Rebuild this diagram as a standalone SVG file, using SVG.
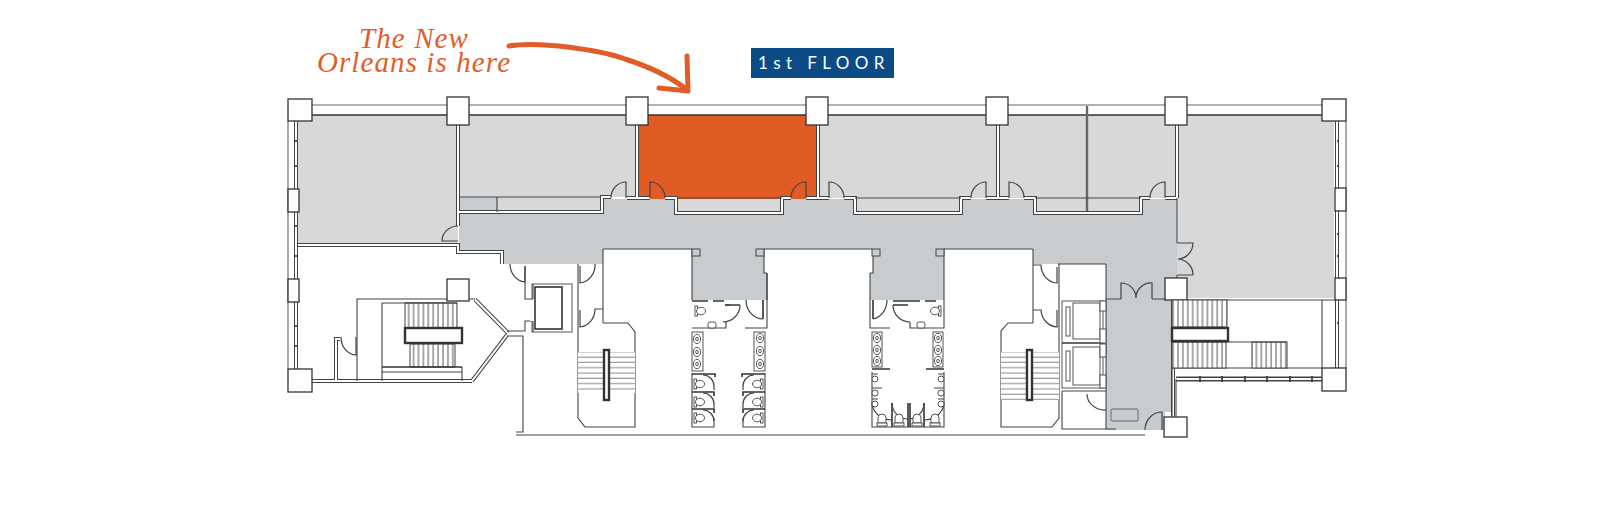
<svg xmlns="http://www.w3.org/2000/svg" width="1600" height="519" viewBox="0 0 1600 519">
<style>
.room{fill:#d8d8d8}
.hall{fill:#c9ccce}
.l{fill:none;stroke:#444;stroke-width:1.1}
.g{fill:none;stroke:#666;stroke-width:1.1}
.k{fill:none;stroke:#333;stroke-width:1.6}
.div{fill:none;stroke:#666;stroke-width:2.4}
.col{fill:#fff;stroke:#333;stroke-width:1.3}
.bar{fill:#fff;stroke:#333;stroke-width:2.4}
.door{fill:none;stroke:#444;stroke-width:1.2}
.fx{fill:#fff;stroke:#444;stroke-width:.9}
.note{font-family:"Liberation Serif",serif;font-style:italic;font-size:29px;letter-spacing:1.1px;fill:#e15d2c}
</style>
<defs>
<pattern id="tv" width="4.9" height="10" patternUnits="userSpaceOnUse"><rect width="4.9" height="10" fill="#fff"/><path d="M2,0V10" stroke="#555" stroke-width="1"/></pattern>
<pattern id="th" width="10" height="5.3" patternUnits="userSpaceOnUse"><rect width="10" height="5.3" fill="#fff"/><path d="M0,2H10" stroke="#888" stroke-width="1"/></pattern>
<g id="dw">
<path d="M298,245H458V252H502V264"/>
<path d="M458,125V226"/>
<path d="M459,212H602V197H611"/>
<path d="M637,125V198"/>
<path d="M665,198H676V213H782V198H791"/>
<path d="M818,125V198"/>
<path d="M844,198H855V213H961V198H971"/>
<path d="M998,125V198"/>
<path d="M1024,198H1035V213H1141V198H1150"/>
<path d="M1177,125V198"/>
<path d="M627,198H650M806,198H829M986,198H1009M1165,198H1177"/>
<path d="M475,299.500L508,333"/>
<path d="M507,335L472,381"/>
<path d="M312,381H472"/>
<path d="M336,381V339H340"/>
<path d="M1173,300V416"/>
<path d="M1176,379H1322"/>
<path d="M296,121V369"/>
<path d="M1337,121V368"/>
</g>
<g id="u"><ellipse rx="3.600" ry="4.700" class="fx"/><ellipse rx="1.300" ry="1.800" class="fx"/></g>
<g id="wc"><rect x="-6" y="-5" width="2.500" height="10" class="fx"/><ellipse cx="0" cy="0" rx="4.500" ry="3.800" class="fx"/></g>
<g id="wv"><path d="M-4,4V-1A4,4 0 0 1 4,-1V4Z" class="fx"/><rect x="-5" y="4" width="10" height="3" class="fx"/></g>
</defs>
<rect width="1600" height="519" fill="#fff"/>

<g id="floor-areas">
<rect class="room" x="298" y="115" width="160" height="128"/>
<path class="room" d="M459,115H637V197H602V212H497V197H459Z"/>
<path id="the-new-orleans" fill="#e05c24" d="M639,115H817V199H639Z"/>
<rect class="room" x="677" y="199" width="105" height="13"/>
<path class="room" d="M820,115H997V198H962V212H854V198H820Z"/>
<path class="room" d="M999,115H1176V198H1142V212H1035V198H999Z"/>
<path class="room" d="M1178,115H1334V298H1187V278H1178Z"/>
<path class="hall" d="M459,197H497V214H602V199H674V214H782V199H853V214H962V199H1033V214H1142V199H1177V278H1165V300H1172V412H1165V430H1106V264H1033V249H944V300H870V273H873V249H764V273H767V300H692V249H603V264H502V252H459Z"/>
<rect class="room" x="1177" y="243" width="16" height="32"/>
</g>

<g id="walls">
<use href="#dw" fill="none" stroke="#444" stroke-width="4"/>
<use href="#dw" fill="none" stroke="#fff" stroke-width="2"/>
<path class="g" d="M312,105H1322"/>
<path class="k" d="M312,115H1322"/>
<path class="g" d="M288,121V369M1346,121V368"/>
<path class="div" d="M1087,106V211"/>
<path class="l" d="M497,197V212M459,197H600M677,198H782M855,198H961M1035,198H1141"/>
<path class="l" d="M1177,198V243M1177,275V278"/>
<path class="l" d="M1106,264V429M1058,264H1106M1033,249V323M603,249V323M578,264V418L585,427H635V332L628,323H603"/>
<path class="l" d="M603,249H692M764,249H872M944,249H1033M692,249V300M767,273V300M870,273V300M944,249V300M767,273H764V249M870,273H873V249"/>
<rect class="hall" x="692" y="249" width="8" height="7" stroke="#444"/>
<rect class="hall" x="756" y="249" width="8" height="7" stroke="#444"/>
<rect class="hall" x="872" y="249" width="8" height="7" stroke="#444"/>
<rect class="hall" x="936" y="249" width="8" height="7" stroke="#444"/>
<path class="l" d="M1033,323H1008L1001,331V427H1052L1059,418V264"/>
<path class="l" d="M1106,299H1121M1152,299H1165"/>
<path class="l" d="M1187,300H1335M1322,300V368M1172,368H1322M1172,300V412"/>
<path class="l" d="M1106,429H1116M516,435H1145M516,432H523V336H507M507,331H525V321H533M525,266V299H533"/>
<path class="l" d="M357,381V299H447M382,381V303H447M469,299H475"/>
<path class="l" d="M1176,377H1322M1176,381H1322M1176,379V418M1172,412V418"/>
<path class="k" d="M1200,376V382M1222,376V382M1245,376V382M1267,376V382M1290,376V382M1312,376V382M296,140V142M296,165V167M296,225V227M296,255V257M296,325V327M296,345V347M1338,140V142M1338,165V167M1338,233V235M1338,255V257M1338,322V324"/>
</g>

<g id="columns">
<rect class="col" x="288" y="99" width="24" height="22"/>
<rect class="col" x="447" y="97" width="22" height="28"/>
<rect class="col" x="626" y="97" width="22" height="28"/>
<rect class="col" x="806" y="97" width="22" height="28"/>
<rect class="col" x="986" y="97" width="22" height="28"/>
<rect class="col" x="1165" y="97" width="22" height="28"/>
<rect class="col" x="1322" y="99" width="24" height="22"/>
<rect class="col" x="288" y="189" width="11" height="23"/>
<rect class="col" x="288" y="279" width="11" height="23"/>
<rect class="col" x="288" y="369" width="24" height="23"/>
<rect class="col" x="1335" y="188" width="11" height="23"/>
<rect class="col" x="1335" y="278" width="11" height="22"/>
<rect class="col" x="1322" y="368" width="24" height="23"/>
<rect class="col" x="1165" y="278" width="22" height="22"/>
<rect class="col" x="1164" y="417" width="23" height="20"/>
<rect class="col" x="447" y="279" width="22" height="22"/>
</g>

<g id="doors">
<path class="door" d="M458,241H442A16,15 0 0 1 458,226"/>
<path class="door" d="M626,198V182A15,16 0 0 0 611,198"/>
<path class="door" d="M650,198V182A15,16 0 0 1 665,198"/>
<path class="door" d="M806,198V182A15,16 0 0 0 791,198"/>
<path class="door" d="M829,198V182A15,16 0 0 1 844,198"/>
<path class="door" d="M986,198V182A15,16 0 0 0 971,198"/>
<path class="door" d="M1009,198V182A15,16 0 0 1 1024,198"/>
<path class="door" d="M1165,198V182A15,16 0 0 0 1150,198"/>
<path class="door" d="M1177,243H1193A16,16 0 0 1 1178,259A16,16 0 0 1 1193,275H1177"/>
<path class="door" d="M1121,299V283A15,15 0 0 1 1136,298A15,15 0 0 1 1152,283V299"/>
<path class="door" d="M510,264A17,18 0 0 0 525,282V266"/>
<path class="door" d="M595,264A17,18 0 0 1 580,283V266"/>
<path class="door" d="M603,309H595A17,18 0 0 1 580,327V310"/>
<path class="door" d="M1033,265H1041A17,18 0 0 0 1057,283V267"/>
<path class="door" d="M1033,310H1041A17,18 0 0 0 1057,327V310"/>
<path class="door" d="M1162,430V412A17,18 0 0 0 1145,430"/>
<path class="door" d="M1087,394A18,16 0 0 0 1106,410"/>
<path class="door" d="M341,337A15,18 0 0 0 356,355V337"/>
</g>

<g id="stair-left">
<rect x="405" y="303" width="52" height="25" fill="url(#tv)" stroke="#444"/>
<rect x="410" y="344" width="45" height="23" fill="url(#tv)" stroke="#444"/>
<rect class="bar" x="405" y="328" width="57" height="15"/>
<path class="k" d="M382,367H462"/>
<path class="l" d="M382,372H462M462,367V381M405,303H457"/>
</g>
<g id="stair-center-left">
<rect x="578" y="352" width="57" height="41" fill="url(#th)"/>
<rect class="bar" x="604" y="350" width="5" height="50"/>
</g>
<g id="stair-center-right">
<rect x="1001" y="352" width="58" height="48" fill="url(#th)"/>
<rect class="bar" x="1027" y="350" width="5" height="50"/>
</g>
<g id="stair-right">
<rect x="1172" y="300" width="55" height="27" fill="url(#tv)" stroke="#444"/>
<rect x="1172" y="342" width="54" height="26" fill="url(#tv)" stroke="#444"/>
<rect x="1252" y="342" width="35" height="26" fill="url(#tv)" stroke="#444"/>
<path class="l" d="M1172,342H1287"/>
<rect class="bar" x="1172" y="328" width="56" height="13"/>
</g>

<g id="shaft-left">
<rect class="fx" x="532" y="284" width="40" height="48"/>
<rect x="535" y="287" width="27" height="42" fill="#fff" class="k"/>
<path fill="#fff" stroke="none" d="M530,300H534V321H530Z"/>
<path class="l" d="M533,284V299M533,321V332"/>
</g>
<g id="elevators">
<rect class="fx" x="1062" y="301" width="41" height="87"/>
<path class="k" d="M1062,343H1103"/>
<rect class="fx" x="1073" y="303" width="27" height="36" stroke-width="1.300"/>
<rect class="fx" x="1073" y="347" width="27" height="38" stroke-width="1.300"/>
<rect x="1066" y="307" width="4" height="29" fill="#fff" class="g"/>
<rect x="1066" y="351" width="4" height="30" fill="#fff" class="g"/>
<rect class="fx" x="1100" y="301" width="6" height="10"/>
<rect class="fx" x="1100" y="329" width="6" height="14"/>
<rect class="fx" x="1100" y="344" width="6" height="13"/>
<rect class="fx" x="1100" y="375" width="6" height="13"/>
<path class="l" d="M1062,391H1106M1062,391V429H1106"/>
<rect x="1111" y="409" width="27" height="12" rx="1" fill="none" stroke="#666"/>
</g>

<g id="restroom-left">
<path class="l" d="M692,328H726V322M745,328H767V273M730,305H725"/>
<path class="k" d="M725,305H740M763,300V319"/>
<path class="door" d="M740,305A17,17 0 0 1 723,322M746,300A17,19 0 0 0 763,319"/>
<path class="k" d="M692,301H708M713,301H724"/>
<use href="#wc" x="701" y="311"/>
<rect class="fx" x="708" y="322" width="8" height="6" rx="2"/>
<rect class="fx" x="692" y="332" width="11" height="39"/>
<rect class="fx" x="754" y="332" width="11" height="39"/>
<use href="#u" x="697" y="339"/><use href="#u" x="697" y="352"/><use href="#u" x="697" y="364"/>
<use href="#u" x="760" y="338"/><use href="#u" x="760" y="351"/><use href="#u" x="760" y="364"/>
<path class="l" d="M692,373V427H714V418M765,373V427H743V418"/>
<path class="k" d="M692,374H715V377M692,392H714V396M692,409H714V413M765,374H742V377M765,392H743V396M765,409H743V413"/>
<path class="door" d="M703,375A11,11 0 0 1 714,386V390M703,393A11,11 0 0 1 714,404V408M703,410A11,11 0 0 1 714,421M754,375A11,11 0 0 0 743,386V390M754,393A11,11 0 0 0 743,404V408M754,410A11,11 0 0 0 743,421"/>
<use href="#wc" x="700" y="384"/><use href="#wc" x="700" y="402"/><use href="#wc" x="700" y="418"/>
<use href="#wc" transform="translate(757,384) scale(-1,1)"/><use href="#wc" transform="translate(757,402) scale(-1,1)"/><use href="#wc" transform="translate(757,418) scale(-1,1)"/>
</g>

<g id="restroom-right">
<path class="l" d="M870,300V328H890M944,300V328H910V322"/>
<path class="k" d="M873,300V319M893,305H908"/>
<path class="door" d="M873,319A17,19 0 0 0 887,300M893,305A17,17 0 0 0 910,322"/>
<path class="k" d="M893,301H920M925,301H936"/>
<use href="#wc" transform="translate(935,311) scale(-1,1)"/>
<rect class="fx" x="917" y="322" width="8" height="6" rx="2"/>
<rect class="fx" x="872" y="332" width="10" height="35"/>
<rect class="fx" x="933" y="332" width="10" height="35"/>
<use href="#u" x="877" y="338"/><use href="#u" x="877" y="350"/><use href="#u" x="877" y="361"/>
<use href="#u" x="938" y="338"/><use href="#u" x="938" y="350"/><use href="#u" x="938" y="361"/>
<path class="k" d="M872,369H890M926,369H944"/>
<path class="l" d="M872,372V427H944V372"/>
<path class="k" d="M892,403V427M908,403V427M924,403V427M910,403V427"/>
<path class="door" d="M872,402A20,18 0 0 0 892,420M892,403A16,16 0 0 0 908,419M924,403A16,16 0 0 1 910,419M944,402A20,18 0 0 1 924,420"/>
<path class="l" d="M872,374H878M872,388H882M872,399H878M944,374H938M944,388H934M944,399H938"/>
<circle class="fx" cx="875" cy="379" r="3"/><circle class="fx" cx="875" cy="393" r="3"/><circle class="fx" cx="875" cy="404" r="3"/>
<circle class="fx" cx="941" cy="379" r="3"/><circle class="fx" cx="941" cy="393" r="3"/><circle class="fx" cx="941" cy="404" r="3"/>
<use href="#wv" x="882" y="419"/><use href="#wv" x="899" y="419"/><use href="#wv" x="917" y="419"/><use href="#wv" x="935" y="419"/>
</g>

<g id="callout">
<text class="note" text-anchor="middle"><tspan x="414" y="48">The New</tspan><tspan x="414" y="72">Orleans is here</tspan></text>
<path d="M509,46C540,41 600,50 625,59C650,67 672,78 686,89" fill="none" stroke="#e15d27" stroke-width="5" stroke-linecap="round"/>
<path d="M687,56L688,91L659,88" fill="none" stroke="#e15d27" stroke-width="5" stroke-linecap="round" stroke-linejoin="round"/>
</g>
<g id="floor-label">
<rect x="751" y="48" width="143" height="30" fill="#0b4c86"/>
<text x="758" y="69" font-family="Lato, sans-serif" font-size="17" letter-spacing="5.400" fill="#fff">1st FLOOR</text>
</g>
</svg>
